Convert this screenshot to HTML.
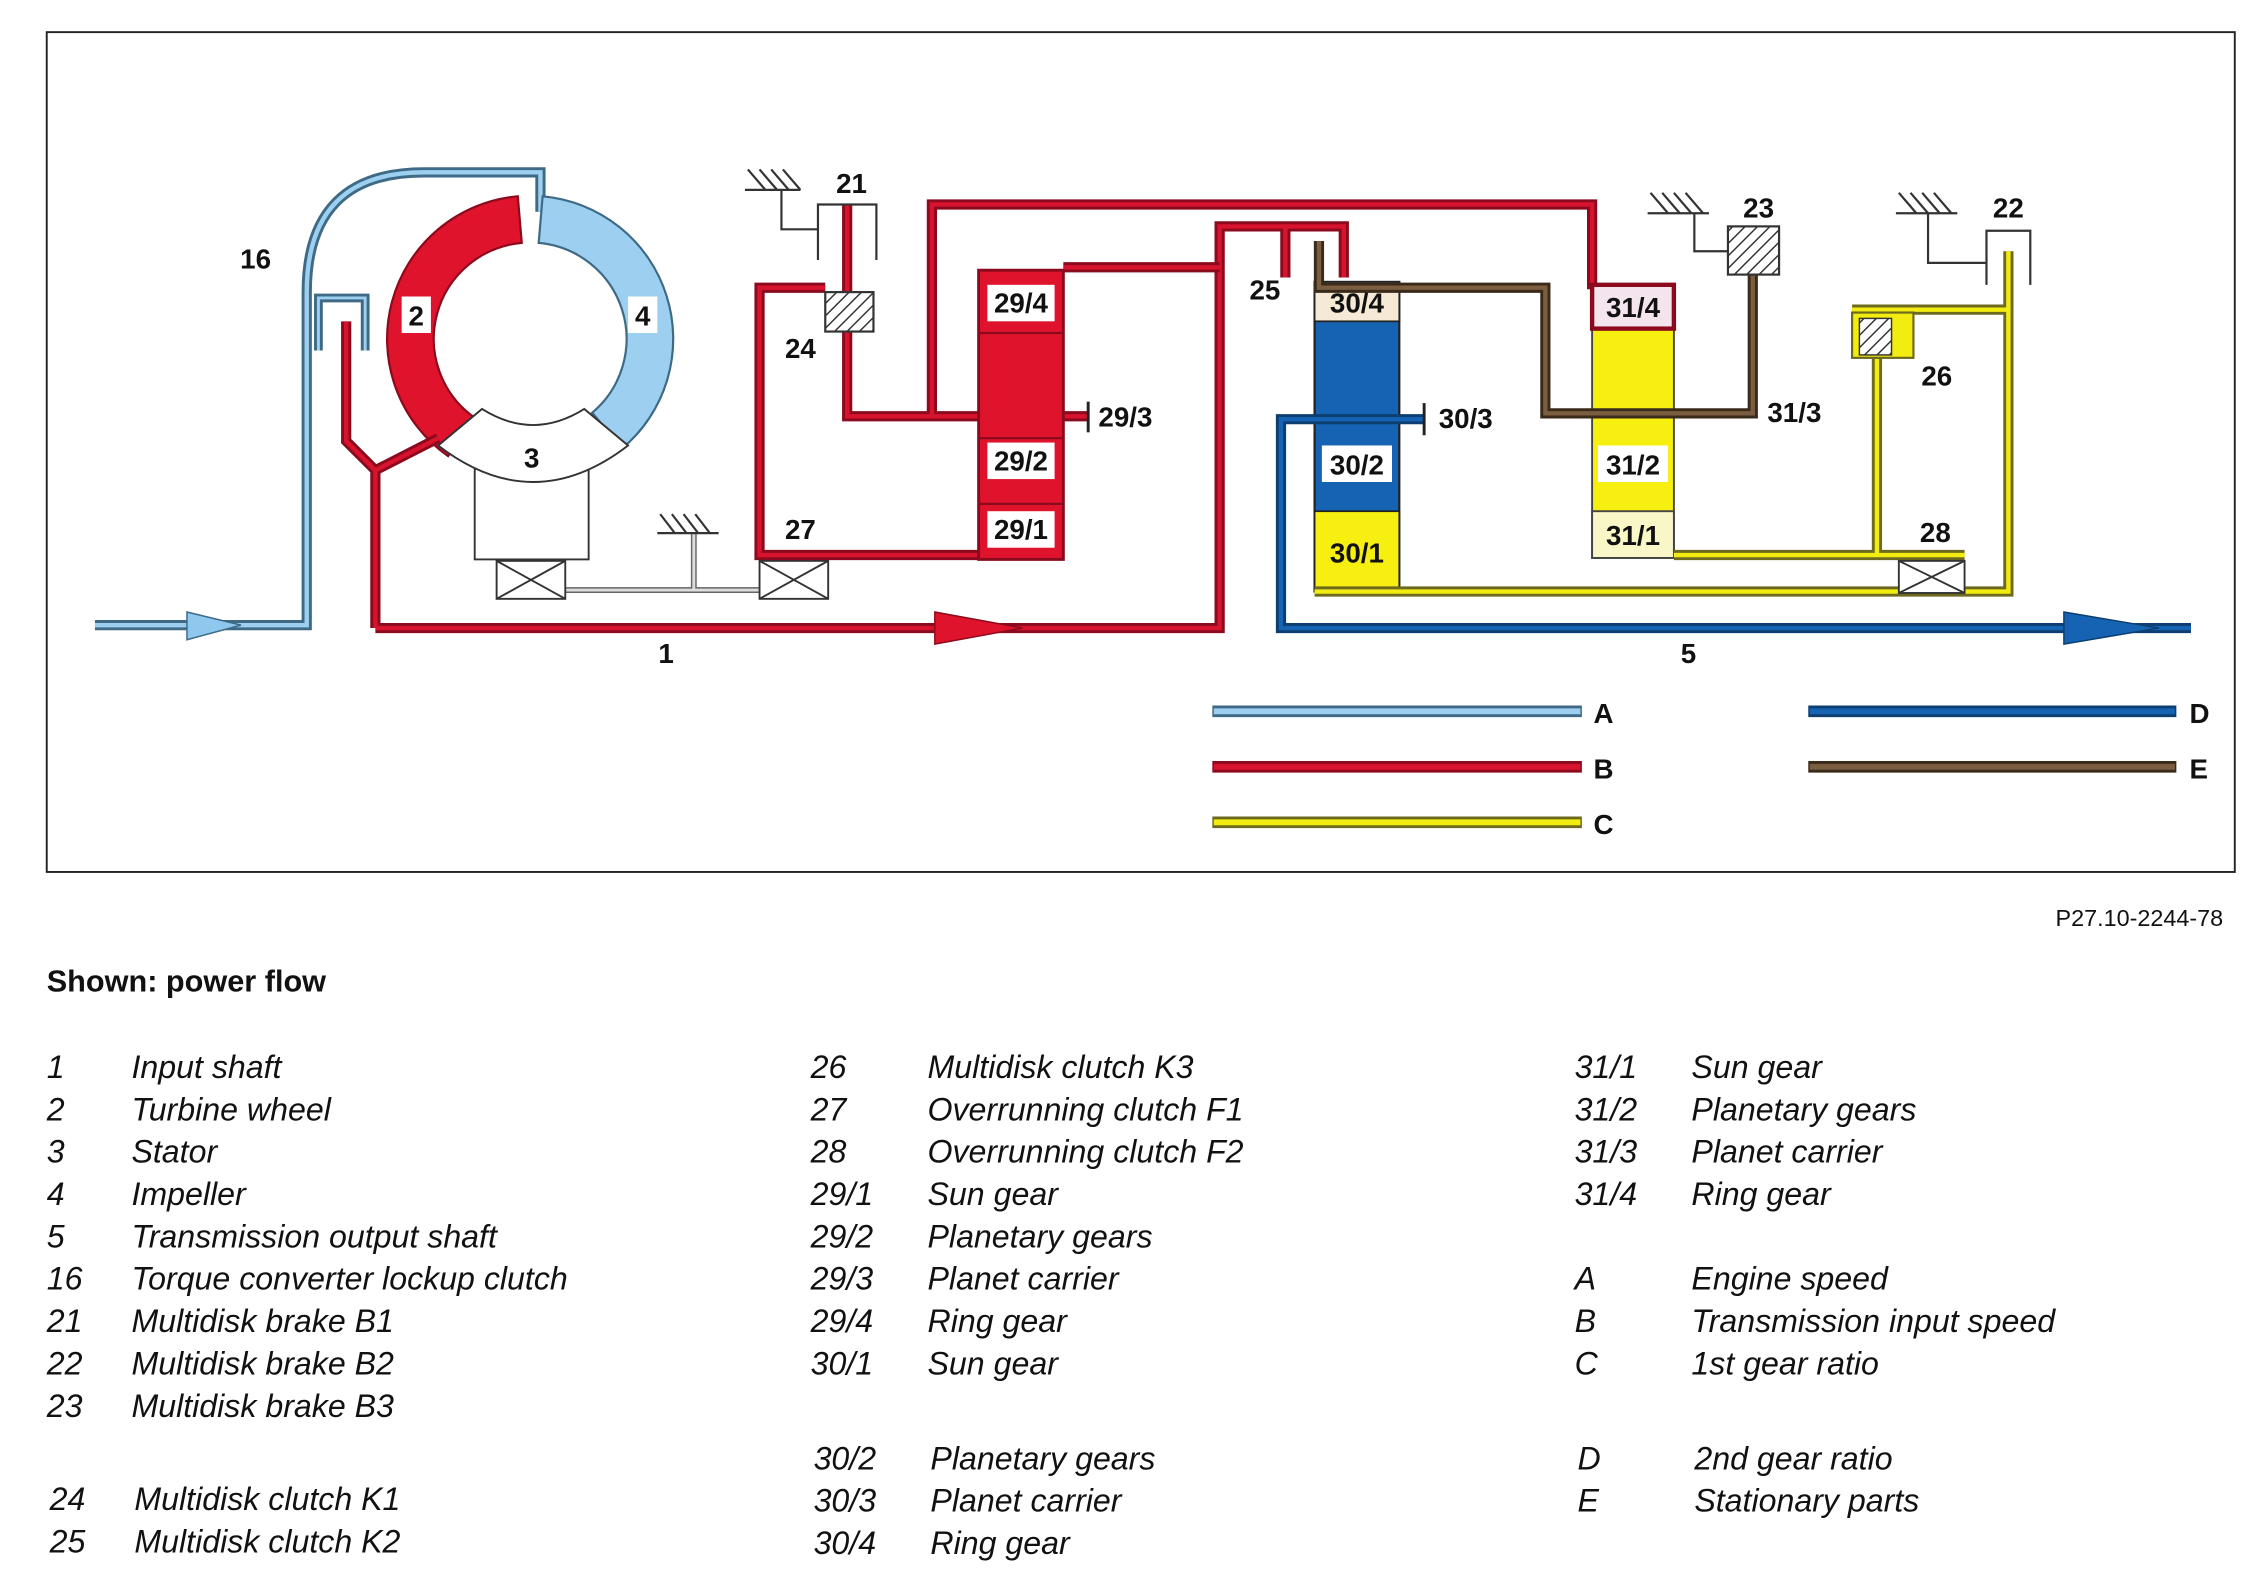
<!DOCTYPE html>
<html><head><meta charset="utf-8"><style>
html,body{margin:0;padding:0;background:#fff;}
svg{display:block;}
.t{font-family:"Liberation Sans",sans-serif;font-style:italic;font-size:22px;fill:#111;}
.n{font-family:"Liberation Sans",sans-serif;font-weight:bold;font-size:19px;fill:#111;}
</style></head><body>
<svg width="2264" height="1584" viewBox="0 0 1550 1084.5" preserveAspectRatio="none" xmlns="http://www.w3.org/2000/svg">
<defs>
<pattern id="h" width="6" height="6" patternUnits="userSpaceOnUse" patternTransform="rotate(45)"><rect width="6" height="6" fill="#fff"/><line x1="0" y1="0" x2="0" y2="6" stroke="#333" stroke-width="2"/></pattern>
<path id="pA" d="M65 428 H210 V200 Q210 118 290 118 H370 V145" fill="none"/>
<path id="pA2" d="M218 240 V204 H250 V240" fill="none"/>
<path id="pB1" d="M257 430 H835 V155 H920 V190 M880 155 V190 M257 430 V322 L237 302 V220 M257 322 L300 300" fill="none"/>
<path id="pB2" d="M670 380 H520 V197 H565 M580 140 V285 H745 M638 285 V140 H1090 V198 M728 183 H835" fill="none"/>
<path id="pE" d="M903 165 V197 H1058 V283 H1200 V170" fill="none"/>
<path id="pD" d="M975 287 H877 V430 H1500" fill="none"/>
<path id="pC" d="M900 405 H1375 V172 M1146 380 H1345 M1285 380 V228 M1268 212 H1375" fill="none"/>
</defs>
<rect x="32" y="22" width="1498" height="575" fill="#fff" stroke="#222" stroke-width="1.3"/>

<!-- gray bearing line / ground -->
<path d="M387 404 H520 M475 365 V404" stroke="#666" stroke-width="4" fill="none"/>
<path d="M387 404 H520 M475 365 V404" stroke="#ddd" stroke-width="2" fill="none"/>
<g stroke="#333" stroke-width="1.5"><line x1="450" y1="365" x2="492" y2="365"/><line x1="452" y1="352" x2="462" y2="365"/><line x1="460" y1="352" x2="470" y2="365"/><line x1="468" y1="352" x2="478" y2="365"/><line x1="476" y1="352" x2="486" y2="365"/></g>
<g fill="#fff" stroke="#333" stroke-width="1.3"><rect x="340" y="384" width="47" height="26"/><path d="M340 384 L387 410 M387 384 L340 410"/><rect x="520" y="384" width="47" height="26"/><path d="M520 384 L567 410 M567 384 L520 410"/></g>

<!-- light blue -->
<use href="#pA" stroke="#3e6a86" stroke-width="7"/><use href="#pA" stroke="#9dd0f0" stroke-width="3"/>
<use href="#pA2" stroke="#3e6a86" stroke-width="6"/><use href="#pA2" stroke="#9dd0f0" stroke-width="2"/>
<polygon points="128,419 165,428 128,438" fill="#8ec8ee" stroke="#3e6a86" stroke-width="1"/>

<!-- torque converter -->
<path d="M354.5 134.4 A98 98 0 0 0 306.8 312.3 L325.1 286.1 A66 66 0 0 1 357.2 166.3 Z" fill="#e0132c" stroke="#8b0a1e" stroke-width="1.5"/>
<path d="M371.5 134.4 A98 98 0 0 1 426 307 L405.4 282.6 A66 66 0 0 0 368.8 166.3 Z" fill="#9dd0f0" stroke="#3e6a86" stroke-width="1.5"/>
<rect x="325" y="318" width="78" height="65" fill="#fff" stroke="#333" stroke-width="1.3"/>
<path d="M300 305 L330 280 Q365 302 400 280 L430 305 Q365 355 300 305 Z" fill="#fff" stroke="#333" stroke-width="1.3"/>
<rect x="275" y="203" width="20" height="25" fill="#fff"/><text class="n" x="285" y="223" text-anchor="middle">2</text>
<rect x="430" y="203" width="20" height="25" fill="#fff"/><text class="n" x="440" y="223" text-anchor="middle">4</text>
<text class="n" x="364" y="320" text-anchor="middle">3</text>

<!-- red -->
<use href="#pB1" stroke="#8b0a1e" stroke-width="7"/><use href="#pB1" stroke="#d8132e" stroke-width="3"/>
<use href="#pB2" stroke="#8b0a1e" stroke-width="7"/><use href="#pB2" stroke="#d8132e" stroke-width="3"/>
<polygon points="640,419 700,430 640,441" fill="#e0132c" stroke="#8b0a1e" stroke-width="1"/>
<line x1="745" y1="275" x2="745" y2="296" stroke="#222" stroke-width="2"/>

<!-- brake 21 and clutch 24 -->
<g stroke="#333" stroke-width="1.5" fill="none"><line x1="510" y1="130" x2="548" y2="130"/><line x1="512" y1="116" x2="524" y2="130"/><line x1="520" y1="116" x2="532" y2="130"/><line x1="528" y1="116" x2="540" y2="130"/><line x1="536" y1="116" x2="548" y2="130"/><path d="M535 130 V157 H560 M560 178 V140 H600 V178"/></g>
<rect x="565" y="200" width="33" height="27" fill="url(#h)" stroke="#333" stroke-width="1.5"/>

<!-- column 29 -->
<rect x="670" y="185" width="58" height="198" fill="#e0132c" stroke="#8b0a1e" stroke-width="2"/>
<g stroke="#8b0a1e" stroke-width="1.5"><line x1="670" y1="228" x2="728" y2="228"/><line x1="670" y1="300" x2="728" y2="300"/><line x1="670" y1="345" x2="728" y2="345"/></g>
<rect x="676" y="195" width="46" height="25" fill="#fff"/><text class="n" x="699" y="214" text-anchor="middle">29/4</text>
<rect x="676" y="303" width="46" height="25" fill="#fff"/><text class="n" x="699" y="322" text-anchor="middle">29/2</text>
<rect x="676" y="350" width="46" height="25" fill="#fff"/><text class="n" x="699" y="369" text-anchor="middle">29/1</text>

<!-- column 30 -->
<rect x="900" y="193" width="58" height="212" fill="#1763b3" stroke="#222" stroke-width="1.5"/>
<rect x="900" y="193" width="58" height="27" fill="#f6ead6" stroke="#222" stroke-width="1.2"/>
<rect x="900" y="350" width="58" height="55" fill="#f7ef10" stroke="#222" stroke-width="1.2"/>
<rect x="905" y="305" width="48" height="25" fill="#fff"/>
<text class="n" x="929" y="214" text-anchor="middle">30/4</text>
<text class="n" x="929" y="325" text-anchor="middle">30/2</text>
<text class="n" x="929" y="385" text-anchor="middle">30/1</text>

<!-- column 31 -->
<rect x="1090" y="195" width="56" height="187" fill="#f7ef10" stroke="#444" stroke-width="1.3"/>
<rect x="1090" y="195" width="56" height="30" fill="#f4e4ee" stroke="#8b0a1e" stroke-width="3"/>
<rect x="1090" y="350" width="56" height="32" fill="#f9f6c8" stroke="#444" stroke-width="1.3"/>
<rect x="1094" y="305" width="48" height="25" fill="#fff"/>
<text class="n" x="1118" y="217" text-anchor="middle">31/4</text>
<text class="n" x="1118" y="325" text-anchor="middle">31/2</text>
<text class="n" x="1118" y="373" text-anchor="middle">31/1</text>

<!-- yellow -->
<use href="#pC" stroke="#6d6a20" stroke-width="7"/><use href="#pC" stroke="#f3ec10" stroke-width="3"/>
<rect x="1268" y="214" width="42" height="31" fill="#f3ec10" stroke="#6d6a20" stroke-width="1.5"/>
<rect x="1273" y="218" width="22" height="25" fill="url(#h)" stroke="#333" stroke-width="1"/>
<g fill="#fff" stroke="#333" stroke-width="1.3"><rect x="1300" y="384" width="45" height="22"/><path d="M1300 384 L1345 406 M1345 384 L1300 406"/></g>

<!-- brown -->
<use href="#pE" stroke="#3a2a1a" stroke-width="7"/><use href="#pE" stroke="#7b5d40" stroke-width="3"/>
<rect x="1183" y="155" width="35" height="33" fill="url(#h)" stroke="#333" stroke-width="1.5"/>

<!-- blue -->
<use href="#pD" stroke="#0c3e70" stroke-width="7"/><use href="#pD" stroke="#1763b3" stroke-width="3"/>
<polygon points="1413,419 1478,430 1413,441" fill="#1763b3" stroke="#0c3e70" stroke-width="1"/>
<line x1="975" y1="276" x2="975" y2="298" stroke="#222" stroke-width="2"/>

<!-- brakes 23, 22 -->
<g stroke="#333" stroke-width="1.5" fill="none">
<line x1="1128" y1="146" x2="1170" y2="146"/><line x1="1130" y1="132" x2="1142" y2="146"/><line x1="1138" y1="132" x2="1150" y2="146"/><line x1="1146" y1="132" x2="1158" y2="146"/><line x1="1154" y1="132" x2="1166" y2="146"/><path d="M1160 146 V172 H1183"/>
<line x1="1298" y1="146" x2="1340" y2="146"/><line x1="1300" y1="132" x2="1312" y2="146"/><line x1="1308" y1="132" x2="1320" y2="146"/><line x1="1316" y1="132" x2="1328" y2="146"/><line x1="1324" y1="132" x2="1336" y2="146"/><path d="M1320 146 V180 H1360 M1360 195 V158 H1390 V195"/>
</g>

<!-- labels -->
<text class="n" x="175" y="184" text-anchor="middle">16</text>
<text class="n" x="583" y="132" text-anchor="middle">21</text>
<text class="n" x="548" y="245" text-anchor="middle">24</text>
<text class="n" x="548" y="369" text-anchor="middle">27</text>
<text class="n" x="456" y="454" text-anchor="middle">1</text>
<text class="n" x="752" y="292">29/3</text>
<text class="n" x="866" y="205" text-anchor="middle">25</text>
<text class="n" x="985" y="293">30/3</text>
<text class="n" x="1210" y="289">31/3</text>
<text class="n" x="1204" y="149" text-anchor="middle">23</text>
<text class="n" x="1375" y="149" text-anchor="middle">22</text>
<text class="n" x="1326" y="264" text-anchor="middle">26</text>
<text class="n" x="1325" y="371" text-anchor="middle">28</text>
<text class="n" x="1156" y="454" text-anchor="middle">5</text>

<!-- legend -->
<g fill="none">
<line x1="830" y1="487" x2="1083" y2="487" stroke="#3e6a86" stroke-width="8"/><line x1="831" y1="487" x2="1082" y2="487" stroke="#9dd0f0" stroke-width="4"/>
<line x1="830" y1="525" x2="1083" y2="525" stroke="#8b0a1e" stroke-width="8"/><line x1="831" y1="525" x2="1082" y2="525" stroke="#d8132e" stroke-width="4"/>
<line x1="830" y1="563" x2="1083" y2="563" stroke="#6d6a20" stroke-width="8"/><line x1="831" y1="563" x2="1082" y2="563" stroke="#f3ec10" stroke-width="4"/>
<line x1="1238" y1="487" x2="1490" y2="487" stroke="#0c3e70" stroke-width="8"/><line x1="1239" y1="487" x2="1489" y2="487" stroke="#1763b3" stroke-width="4"/>
<line x1="1238" y1="525" x2="1490" y2="525" stroke="#3a2a1a" stroke-width="8"/><line x1="1239" y1="525" x2="1489" y2="525" stroke="#7b5d40" stroke-width="4"/>
</g>
<text class="n" x="1091" y="495">A</text><text class="n" x="1091" y="533">B</text><text class="n" x="1091" y="571">C</text>
<text class="n" x="1499" y="495">D</text><text class="n" x="1499" y="533">E</text>

<text x="1522" y="634" text-anchor="end" style="font-family:'Liberation Sans',sans-serif;font-size:16px;fill:#111">P27.10-2244-78</text>
<text x="32" y="679" style="font-family:'Liberation Sans',sans-serif;font-size:21px;font-weight:bold;fill:#111">Shown: power flow</text>

<g class="t">
<text x="32" y="738">1</text><text x="90" y="738">Input shaft</text>
<text x="32" y="767">2</text><text x="90" y="767">Turbine wheel</text>
<text x="32" y="796">3</text><text x="90" y="796">Stator</text>
<text x="32" y="825">4</text><text x="90" y="825">Impeller</text>
<text x="32" y="854">5</text><text x="90" y="854">Transmission output shaft</text>
<text x="32" y="883">16</text><text x="90" y="883">Torque converter lockup clutch</text>
<text x="32" y="912">21</text><text x="90" y="912">Multidisk brake B1</text>
<text x="32" y="941">22</text><text x="90" y="941">Multidisk brake B2</text>
<text x="32" y="970">23</text><text x="90" y="970">Multidisk brake B3</text>
<text x="34" y="1034">24</text><text x="92" y="1034">Multidisk clutch K1</text>
<text x="34" y="1063">25</text><text x="92" y="1063">Multidisk clutch K2</text>

<text x="555" y="738">26</text><text x="635" y="738">Multidisk clutch K3</text>
<text x="555" y="767">27</text><text x="635" y="767">Overrunning clutch F1</text>
<text x="555" y="796">28</text><text x="635" y="796">Overrunning clutch F2</text>
<text x="555" y="825">29/1</text><text x="635" y="825">Sun gear</text>
<text x="555" y="854">29/2</text><text x="635" y="854">Planetary gears</text>
<text x="555" y="883">29/3</text><text x="635" y="883">Planet carrier</text>
<text x="555" y="912">29/4</text><text x="635" y="912">Ring gear</text>
<text x="555" y="941">30/1</text><text x="635" y="941">Sun gear</text>
<text x="557" y="1006">30/2</text><text x="637" y="1006">Planetary gears</text>
<text x="557" y="1035">30/3</text><text x="637" y="1035">Planet carrier</text>
<text x="557" y="1064">30/4</text><text x="637" y="1064">Ring gear</text>

<text x="1078" y="738">31/1</text><text x="1158" y="738">Sun gear</text>
<text x="1078" y="767">31/2</text><text x="1158" y="767">Planetary gears</text>
<text x="1078" y="796">31/3</text><text x="1158" y="796">Planet carrier</text>
<text x="1078" y="825">31/4</text><text x="1158" y="825">Ring gear</text>
<text x="1078" y="883">A</text><text x="1158" y="883">Engine speed</text>
<text x="1078" y="912">B</text><text x="1158" y="912">Transmission input speed</text>
<text x="1078" y="941">C</text><text x="1158" y="941">1st gear ratio</text>
<text x="1080" y="1006">D</text><text x="1160" y="1006">2nd gear ratio</text>
<text x="1080" y="1035">E</text><text x="1160" y="1035">Stationary parts</text>
</g>
</svg>
</body></html>
